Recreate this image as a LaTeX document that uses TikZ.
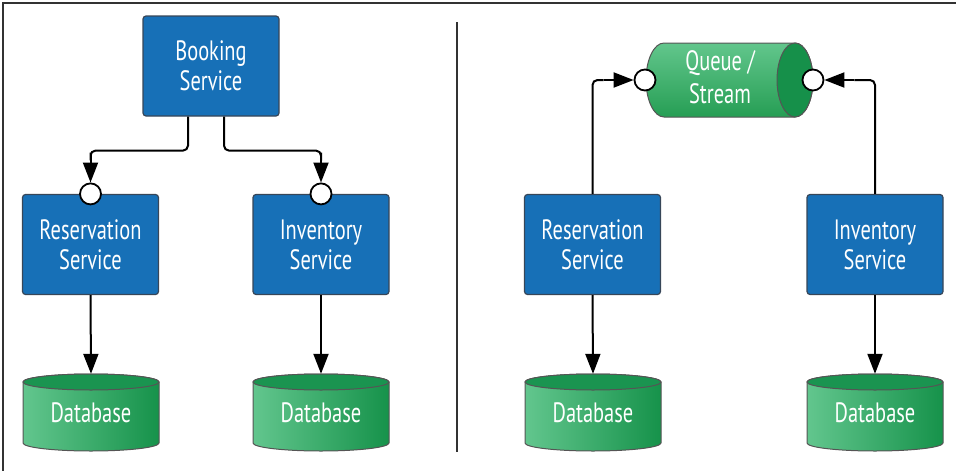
\documentclass[tikz,border=0pt]{standalone}
\usepackage{fontspec}
\setmainfont{PT Sans}[FakeStretch=0.73]
\usetikzlibrary{arrows.meta,calc}
\definecolor{svcblue}{RGB}{23,112,183}
\definecolor{svcborder}{RGB}{55,70,88}
\definecolor{dblight}{RGB}{98,198,142}
\definecolor{dbdark}{RGB}{22,146,74}
\definecolor{dbtop}{RGB}{26,148,80}
\definecolor{cylline}{RGB}{85,85,85}
\definecolor{qlight}{RGB}{98,198,140}
\definecolor{qdark}{RGB}{38,158,84}
\definecolor{qcap}{RGB}{22,144,74}
\definecolor{frame}{RGB}{50,50,50}
\tikzset{
  svc/.style={rectangle, rounded corners=3pt, fill=svcblue, draw=svcborder,
    line width=1.2pt, minimum width=136pt, minimum height=100pt, text=white,
    align=center, inner sep=0pt, font=\fontsize{28}{30}\selectfont},
  dbtext/.style={rectangle, minimum width=136pt, minimum height=77pt, inner sep=0pt,
    text=white, font=\fontsize{28}{30}\selectfont},
  qtext/.style={text=white, align=center, inner sep=0pt, font=\fontsize{28}{33}\selectfont},
  port/.style={circle, draw=black, fill=white, line width=1.8pt, minimum size=21pt, inner sep=0pt},
  conn/.style={draw=black, line width=2pt, sharp corners,
    -{Triangle[length=20pt,width=15pt]}},
  wire/.style={draw=black, line width=2pt, rounded corners=5pt},
  cylbody/.style={draw=cylline, line width=1pt, left color=dblight, right color=dbdark},
  cyltop/.style={draw=cylline, line width=1pt, fill=dbtop},
  framel/.style={draw=frame, line width=1.6pt}
}
\newcommand{\dbcyl}[3]{%
  \path[cylbody] (#2-68,-382) -- (#2-68,-443) arc (180:360:68 and 8) -- (#2+68,-382) arc (0:180:68 and 8) -- cycle;
  \path[cyltop] (#2,-382) ellipse (68 and 8);
  \node[dbtext] (#1) at (#2,-412.5) {#3};
}
\begin{document}
\begin{tikzpicture}[x=1pt,y=1pt]
\useasboundingbox (0,0) rectangle (956,-471);
% frame
\coordinate (ftl) at (3,-3);
\coordinate (ftr) at (956,-3);
\coordinate (fbl) at (3,-471);
\draw[framel] (ftr) -- (ftl) -- (fbl);
\coordinate (dtop) at (457,-22);
\coordinate (dbot) at (457,-452);
\draw[framel] (dtop) -- (dbot);

% ---------- left ----------
\node[svc] (bk) at (211,-66) {Booking\\Service};
\node[svc] (res1) at (90.5,-244.5) {Reservation\\Service};
\node[svc] (inv1) at (321,-244.5) {Inventory\\Service};
\node[port] (p1) at (res1.north) {};
\node[port] (p2) at (inv1.north) {};
\dbcyl{db1}{91}{Database}
\dbcyl{db2}{321}{Database}
\coordinate (k1) at ($(p1.north)+(0,30)$);
\coordinate (k2) at ($(p2.north)+(0,30)$);
\draw[wire] ([xshift=-23pt]bk.south) -- ++(0,-34) -| (k1);
\draw[conn] (k1) -- (p1.north);
\draw[wire] ([xshift=13pt]bk.south) -- ++(0,-34) -| (k2);
\draw[conn] (k2) -- (p2.north);
\draw[conn] (res1.south) -- (db1.north);
\draw[conn] (inv1.south) -- (db2.north);

% ---------- right ----------
\path[draw=cylline, line width=1pt, top color=qlight, bottom color=qdark]
  (664,-43) -- (795,-43) arc (90:-90:18 and 37) -- (664,-117) arc (270:90:18 and 37) -- cycle;
\path[draw=cylline, line width=1pt, fill=qcap] (795,-80) ellipse (18 and 37);
\node[qtext] (q) at (720,-77) {Queue /\\Stream};
\node[port] (qp1) at (645,-80) {};
\node[port] (qp2) at (813,-80) {};
\node[svc] (res2) at (592.5,-244.5) {Reservation\\Service};
\node[svc] (inv2) at (875,-244.5) {Inventory\\Service};
\dbcyl{db3}{593}{Database}
\dbcyl{db4}{875}{Database}
\coordinate (k3) at ($(qp1.west)+(-30,0)$);
\coordinate (k4) at ($(qp2.east)+(30,0)$);
\draw[wire] (res2.north) |- (k3);
\draw[conn] (k3) -- (qp1.west);
\draw[wire] (inv2.north) |- (k4);
\draw[conn] (k4) -- (qp2.east);
\draw[conn] (res2.south) -- (db3.north);
\draw[conn] (inv2.south) -- (db4.north);
\end{tikzpicture}
\end{document}
